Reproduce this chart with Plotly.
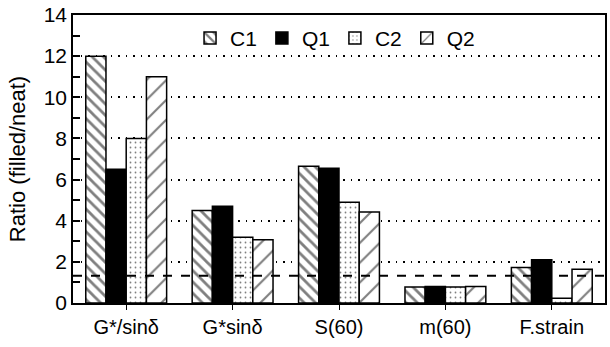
import plotly.graph_objects as go

categories = ["G*/sinδ", "G*sinδ", "S(60)", "m(60)", "F.strain"]
series_names = ["C1", "Q1", "C2", "Q2"]
c1_values = [12.0, 4.5, 6.65, 0.78, 1.72]
q1_values = [6.5, 4.7, 6.55, 0.8, 2.1]
c2_values = [8.0, 3.2, 4.9, 0.78, 0.23]
q2_values = [11.0, 3.07, 4.42, 0.8, 1.64]
reference_ratio = 1.33
y_range = [0, 14]
y_major_step = 2
y_minor_step = 1

FONT = "Liberation Sans, Arial, Helvetica, sans-serif"

styles = {
    "C1": dict(color="white", line=dict(color="black", width=1.5),
               pattern=dict(shape="\\", fgcolor="black", bgcolor="white", size=8, solidity=0.35)),
    "Q1": dict(color="black", line=dict(color="black", width=1.5)),
    "C2": dict(color="white", line=dict(color="black", width=1.5),
               pattern=dict(shape=".", fgcolor="black", bgcolor="white", size=5, solidity=0.1)),
    "Q2": dict(color="white", line=dict(color="black", width=1.5),
               pattern=dict(shape="/", fgcolor="black", bgcolor="white", size=14, solidity=0.15)),
}

fig = go.Figure()
for name, vals in zip(series_names, [c1_values, q1_values, c2_values, q2_values]):
    fig.add_trace(go.Bar(name=name, x=categories, y=vals, marker=styles[name]))

fig.add_shape(type="line", xref="paper", x0=0, x1=1, yref="y",
              y0=reference_ratio, y1=reference_ratio,
              line=dict(color="black", width=2, dash="dash"))

fig.update_layout(
    width=610, height=347,
    margin=dict(l=73, r=3, t=15, b=44),
    paper_bgcolor="white", plot_bgcolor="white",
    barmode="group", bargap=0.24, bargroupgap=0,
    font=dict(family=FONT, size=20, color="black"),
    showlegend=True,
    legend=dict(orientation="h", x=0.22, y=0.99, xanchor="left", yanchor="top",
                bgcolor="rgba(0,0,0,0)", font=dict(size=21), itemwidth=30,
                traceorder="normal"),
    xaxis=dict(showline=True, linecolor="black", linewidth=1.5, mirror=True,
               ticks="outside", ticklen=5, tickcolor="black",
               tickfont=dict(size=20), showgrid=False),
    yaxis=dict(range=y_range, tickmode="linear", tick0=0, dtick=y_major_step, showline=True,
               linecolor="black", linewidth=1.5, mirror=True, ticks="inside", ticklen=7,
               tickcolor="black", tickwidth=2,
               tickfont=dict(size=21), showgrid=True, gridcolor="black", gridwidth=1.5,
               griddash="1.5px,6px", zeroline=False,
               minor=dict(tick0=0, dtick=y_minor_step, ticks="inside",
                          ticklen=7, tickwidth=2, tickcolor="black", showgrid=False),
               title=dict(text="Ratio (filled/neat)", font=dict(size=22), standoff=12)),
)

fig.write_html("out.html")
